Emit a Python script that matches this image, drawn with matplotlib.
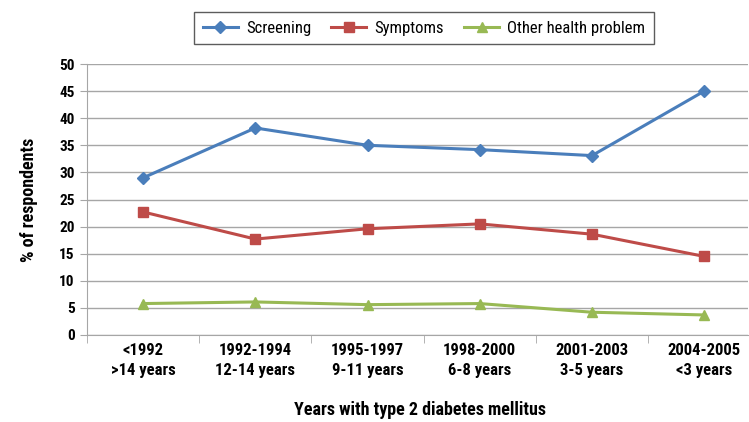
import matplotlib
matplotlib.use("Agg")
import matplotlib.pyplot as plt
from matplotlib import font_manager

fonts = font_manager.fontManager.ttflist
def has_bold(name):
    return any(f.name == name and f.weight in (700, "bold") for f in fonts)
pref = ["Liberation Sans Narrow", "Roboto Condensed", "Open Sans Condensed", "Asap Condensed",
        "Barlow Condensed", "Archivo Narrow", "Liberation Sans"]
chosen = next((p for p in pref if has_bold(p)), "DejaVu Sans")
plt.rcParams["font.family"] = [chosen, "DejaVu Sans"]

categories = ["<1992\n>14 years", "1992-1994\n12-14 years", "1995-1997\n9-11 years",
              "1998-2000\n6-8 years", "2001-2003\n3-5 years", "2004-2005\n<3 years"]
screening = [29.0, 38.2, 35.0, 34.2, 33.1, 45.0]
symptoms = [22.7, 17.7, 19.6, 20.5, 18.6, 14.5]
other = [5.8, 6.1, 5.6, 5.8, 4.2, 3.7]
yticks = [0, 5, 10, 15, 20, 25, 30, 35, 40, 45, 50]

fig = plt.figure(figsize=(7.49, 4.22), dpi=100)
ax = fig.add_axes([87/749, 1-335/422, (748-87)/749, (335-64)/422])

x = list(range(len(categories)))
ax.plot(x, screening, color="#4A7EBB", lw=2.2, marker="D", ms=6, label="Screening", zorder=3)
ax.plot(x, symptoms, color="#BE4B48", lw=2.2, marker="s", ms=7, label="Symptoms", zorder=3)
ax.plot(x, other, color="#98B954", lw=2.2, marker="^", ms=7, label="Other health problem", zorder=3)

ax.set_yticks(yticks)
ax.set_yticklabels([str(v) for v in yticks], fontsize=11, fontweight="bold")
ax.yaxis.grid(True, color="#A6A6A6", lw=1)
ax.set_axisbelow(True)

ax.set_xticks(x)
ax.set_xticklabels(categories, fontsize=12, fontweight="bold", linespacing=1.35)
ax.tick_params(axis="x", length=0, pad=6)
ax.set_xticks([i - 0.5 for i in range(len(categories) + 1)], minor=True)
ax.tick_params(axis="x", which="minor", length=6, color="#A6A6A6")
ax.tick_params(axis="y", length=5, color="#A6A6A6", pad=4)
ax.set_ylim(0, 50)
ax.set_xlim(-0.5, 5.39)

for s in ["top", "right"]:
    ax.spines[s].set_visible(False)
ax.spines["left"].set_color("#A6A6A6")
ax.spines["bottom"].set_color("#A6A6A6")

ax.set_ylabel("% of respondents", fontsize=13, fontweight="bold", labelpad=15)
fig.text(420/749, 1-410/422, "Years with type 2 diabetes mellitus", ha="center", va="center",
         fontsize=13, fontweight="bold")

leg = fig.legend(loc="center", bbox_to_anchor=(424/749, 1-28/422), ncol=3, frameon=True,
                 fancybox=False, edgecolor="#333333", fontsize=12, handlelength=2.1,
                 handletextpad=0.5, columnspacing=1.2, borderpad=0.5)
leg.get_frame().set_linewidth(1.0)

fig.savefig("out.png", dpi=100)
